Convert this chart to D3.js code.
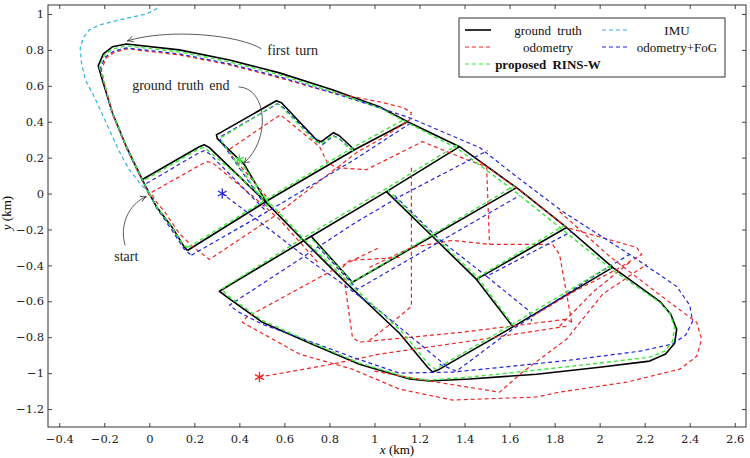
<!DOCTYPE html>
<html>
<head>
<meta charset="utf-8">
<script src="https://cdn.jsdelivr.net/npm/d3@7"></script>
<style>
  body { margin: 0; background: #fff; }
  .tick text { font-family: "DejaVu Serif", serif; font-size: 11.5px; fill: #222; }
  .ann { font-family: "Liberation Serif", serif; font-size: 14px; fill: #222; word-spacing: 2px; }
  .leg { font-family: "Liberation Serif", serif; font-size: 13px; fill: #111; word-spacing: 3px; }
</style>
</head>
<body>
<div id="chart"></div>
<script>
// ---- data (km) ----
const xTicks = [-0.4, -0.2, 0, 0.2, 0.4, 0.6, 0.8, 1, 1.2, 1.4, 1.6, 1.8, 2, 2.2, 2.4, 2.6];
const yTicks = [-1.2, -1, -0.8, -0.6, -0.4, -0.2, 0, 0.2, 0.4, 0.6, 0.8, 1];

// each series is a list of polylines [x, y]
const groundTruth = [
  [[0,0],[-0.031,0.078],[-0.102,0.261],[-0.164,0.45],[-0.209,0.633],[-0.227,0.711],[-0.204,0.778],[-0.164,0.817],[-0.102,0.833],
   [0.133,0.8],[0.356,0.744],[0.578,0.672],[0.813,0.578],[1.022,0.483],[1.147,0.4],[1.378,0.261],[1.631,0.033],[1.853,-0.189],
   [2.058,-0.411],[2.267,-0.6],[2.316,-0.672],[2.342,-0.756],[2.333,-0.833],[2.293,-0.894],[2.222,-0.933],[2.0,-0.967],[1.72,-1.006],
   [1.422,-1.033],[1.244,-1.044],[1.156,-1.033],[0.933,-0.95],[0.724,-0.839],[0.502,-0.717],[0.347,-0.578],[0.311,-0.544],
   [0.68,-0.267],[1.053,0.011],[1.378,0.261]],
  [[0.169,-0.317],[0.533,-0.033],[0.911,0.244],[1.147,0.4]],
  [[0,0],[0.031,-0.072],[0.102,-0.189],[0.151,-0.289],[0.169,-0.317]],
  [[-0.031,0.078],[0.222,0.261],[0.244,0.272],[0.267,0.256],[0.524,-0.056],[0.68,-0.256],[0.876,-0.5],[1.111,-0.778],
   [1.236,-0.967],[1.258,-0.994],[1.289,-0.978],[1.613,-0.744],[2.058,-0.411]],
  [[0.524,-0.056],[0.422,0.161],[0.302,0.306],[0.298,0.328],[0.316,0.339],[0.564,0.517],[0.587,0.506],[0.742,0.3],
   [0.764,0.289],[0.818,0.339],[0.844,0.322],[0.911,0.244]],
  [[0.72,-0.239],[0.902,-0.494],[1.631,0.033]],
  [[1.053,0.011],[1.258,-0.239],[1.453,-0.478],[1.853,-0.189]],
  [[1.453,-0.478],[1.613,-0.739]]
];

const imu = [
  [[0,0],[-0.044,0.061],[-0.089,0.133],[-0.133,0.233],[-0.178,0.356],[-0.222,0.478],[-0.249,0.55],[-0.284,0.633],
   [-0.302,0.733],[-0.307,0.811],[-0.293,0.867],[-0.267,0.911],[-0.222,0.939],[-0.133,0.967],[-0.013,1.0],[0.031,1.028],
   [0.058,1.078],[0.089,1.161]]
];

const odometry = [
  [[0,-0.011],[-0.027,0.061],[-0.098,0.244],[-0.16,0.433],[-0.2,0.617],[-0.213,0.689],[-0.191,0.756],[-0.151,0.789],
   [-0.098,0.806],[0.133,0.772],[0.356,0.717],[0.578,0.644],[0.813,0.561],[1.022,0.511],[1.129,0.478],[1.164,0.45],
   [1.156,0.411],[1.022,0.3],[0.92,0.228],[0.622,-0.061],[0.547,-0.133],[0.267,-0.367],[0.191,-0.294],[0.133,-0.222],
   [0.067,-0.1],[0.022,-0.033],[0.009,0.006],[0.253,0.178],[0.28,0.172],[0.476,-0.033],[0.578,-0.144],[0.756,-0.394]],
  [[1.111,-0.356],[0.889,-0.372],[0.858,-0.411],[0.902,-0.8],[0.933,-0.828],[1.022,-0.817],[1.391,-0.772],[1.853,-0.7],
   [1.876,-0.717]],
  [[1.876,-0.717],[1.822,-0.339],[1.791,-0.283],[1.511,-0.283],[1.347,-0.261],[1.164,-0.3],[0.978,-0.411]],
  [[0.52,-0.017],[0.347,0.239],[0.582,0.439],[0.756,0.261],[0.791,0.172],[0.831,0.144],[0.964,0.133],[1.213,0.289],
   [1.409,0.189],[1.498,0.15],[1.511,-0.283]],
  [[1.164,0.144],[1.164,-0.628],[1.08,-0.717],[0.978,-0.817]],
  [[1.467,0.178],[1.689,-0.022],[1.853,-0.189],[2.164,-0.3],[2.187,-0.339],[2.076,-0.422],[1.88,-0.55],[1.702,-0.683]],
  [[1.822,-0.1],[2.044,-0.35],[2.311,-0.606],[2.431,-0.717],[2.453,-0.811],[2.431,-0.906],[2.356,-0.978],[2.12,-1.05],
   [1.822,-1.106],[1.72,-1.133],[1.347,-1.15],[1.111,-1.089],[0.902,-0.978],[0.667,-0.894],[0.413,-0.717],[0.431,-0.689],
   [0.813,-0.428],[1.022,-0.3]],
  [[1.0,-0.989],[1.244,-1.044],[1.556,-1.106],[1.658,-0.994],[1.764,-0.894],[1.853,-0.811],[2.013,-0.561],[2.209,-0.394]],
  [[1.853,-0.739],[1.391,-0.828],[1.022,-0.894],[0.813,-0.95],[0.489,-1.022]],
  [[2.133,-0.383],[1.969,-0.55],[1.822,-0.739]]
];

const odometryFog = [
  [[0,0],[-0.031,0.072],[-0.102,0.256],[-0.164,0.444],[-0.204,0.622],[-0.218,0.694],[-0.196,0.761],[-0.156,0.794],
   [-0.102,0.811],[0.133,0.778],[0.356,0.722],[0.578,0.65],[0.813,0.561],[1.022,0.478],[1.156,0.422],[1.467,0.256],
   [1.631,0.094],[1.836,-0.1],[2.133,-0.339],[2.342,-0.517],[2.4,-0.622],[2.413,-0.711],[2.382,-0.789],[2.32,-0.839],
   [2.178,-0.878],[1.867,-0.928],[1.569,-0.967],[1.347,-0.994],[1.111,-1.0],[0.902,-0.911],[0.724,-0.828],[0.502,-0.728],
   [0.391,-0.656],[0.356,-0.622],[0.653,-0.378],[0.902,-0.172],[1.111,-0.017],[1.502,0.239]],
  [[0.187,-0.344],[0.533,-0.094],[0.911,0.189],[1.156,0.389]],
  [[0,0],[0.031,-0.078],[0.098,-0.2],[0.156,-0.311],[0.187,-0.344]],
  [[-0.013,0.056],[0.222,0.228],[0.244,0.239],[0.267,0.222],[0.52,-0.1]],
  [[1.32,-0.961],[1.031,-0.661],[0.831,-0.478],[0.724,-0.383],[0.489,-0.156],[0.324,0]],
  [[1.289,-0.95],[1.364,-0.989],[1.613,-0.756],[2.0,-0.439],[2.133,-0.339]],
  [[0.516,-0.067],[0.316,0.294],[0.316,0.317],[0.333,0.328],[0.569,0.5],[0.587,0.489],[0.747,0.289],[0.769,0.272],
   [0.818,0.322],[0.844,0.306],[0.911,0.228]],
  [[0.747,-0.294],[0.924,-0.533],[1.644,-0.011]],
  [[1.089,-0.011],[1.289,-0.256],[1.498,-0.461],[1.876,-0.211]],
  [[1.498,-0.461],[1.689,-0.656],[1.698,-0.711]]
];

const rinsW = [
  [[0,0],[-0.031,0.078],[-0.102,0.261],[-0.164,0.45],[-0.204,0.633],[-0.222,0.706],[-0.2,0.772],[-0.16,0.806],[-0.102,0.822],
   [0.133,0.789],[0.356,0.733],[0.578,0.661],[0.813,0.567],[1.022,0.478],[1.138,0.4],[1.369,0.25],[1.618,0.017],[1.84,-0.206],
   [2.053,-0.422],[2.267,-0.606],[2.311,-0.667],[2.333,-0.744],[2.324,-0.822],[2.289,-0.878],[2.222,-0.911],[2.0,-0.944],
   [1.72,-0.983],[1.422,-1.022],[1.244,-1.039],[1.156,-1.028],[0.933,-0.944],[0.724,-0.833],[0.502,-0.706],[0.347,-0.567],
   [0.32,-0.533],[0.68,-0.25],[1.053,0.028],[1.369,0.272]],
  [[0.173,-0.3],[0.533,-0.022],[0.911,0.261],[1.138,0.417]],
  [[0,0],[0.031,-0.072],[0.102,-0.189],[0.151,-0.289],[0.173,-0.3]],
  [[-0.018,0.078],[0.222,0.25],[0.24,0.256],[0.262,0.239],[0.533,-0.05],[0.689,-0.256],[0.884,-0.494],[1.12,-0.767],
   [1.244,-0.956],[1.271,-0.978],[1.613,-0.728],[2.049,-0.4]],
  [[0.524,-0.072],[0.32,0.294],[0.316,0.311],[0.333,0.322],[0.564,0.5],[0.582,0.489],[0.738,0.289],[0.764,0.278],
   [0.813,0.322],[0.84,0.306],[0.907,0.233]],
  [[0.533,-0.061],[0.4,0.189]],
  [[0.724,-0.256],[0.902,-0.494],[1.622,0.044]],
  [[1.058,0.022],[1.262,-0.233],[1.458,-0.467],[1.844,-0.178]],
  [[1.458,-0.467],[1.609,-0.722]]
];

const endMarks = [
  { key: "odometry", x: 0.489, y: -1.022 },
  { key: "odometryFog", x: 0.324, y: 0.0 },
  { key: "rinsW", x: 0.4, y: 0.189 }
];

// ---- layout ----
const W = 750, H = 458;
const plot = { left: 48, right: 746, top: 5, bottom: 427 };

const x = d3.scaleLinear().domain([-0.45, 2.65]).range([plot.left, plot.right]);
const y = d3.scaleLinear().domain([-1.3, 1.05]).range([plot.bottom, plot.top]);

const styles = {
  groundTruth: { color: "#000", width: 1.6, dash: null },
  imu:         { color: "#2fb4dc", width: 1.2, dash: "4,3" },
  odometry:    { color: "#ee2424", width: 1.2, dash: "4,3" },
  odometryFog: { color: "#2424dc", width: 1.2, dash: "4,3" },
  rinsW:       { color: "#3ae83a", width: 1.4, dash: "4,3" }
};

const svg = d3.select("#chart").append("svg")
  .attr("width", W).attr("height", H);

svg.append("defs").append("clipPath").attr("id", "clip")
  .append("rect")
  .attr("x", plot.left).attr("y", plot.top)
  .attr("width", plot.right - plot.left).attr("height", plot.bottom - plot.top);

const arrow = svg.select("defs").append("marker")
  .attr("id", "arrow").attr("viewBox", "0 0 8 8")
  .attr("refX", 7).attr("refY", 4)
  .attr("markerWidth", 8).attr("markerHeight", 8)
  .attr("markerUnits", "userSpaceOnUse")
  .attr("orient", "auto");
arrow.append("path").attr("d", "M1,1 Q4,3.5 7,4 Q4,4.5 1,7")
  .attr("fill", "none").attr("stroke", "#333").attr("stroke-width", 0.8);

// ---- axes ----
const fmt = d3.format("~g");

svg.append("g")
  .attr("transform", `translate(0,${plot.bottom})`)
  .call(d3.axisBottom(x).tickValues(xTicks).tickSize(-4).tickPadding(8).tickFormat(fmt))
  .call(g => g.select(".domain").remove());

svg.append("g")
  .attr("transform", `translate(0,${plot.top})`)
  .call(d3.axisTop(x).tickValues(xTicks).tickSize(-4).tickFormat(""))
  .call(g => g.select(".domain").remove());

svg.append("g")
  .attr("transform", `translate(${plot.left},0)`)
  .call(d3.axisLeft(y).tickValues(yTicks).tickSize(-4).tickPadding(4).tickFormat(fmt))
  .call(g => g.select(".domain").remove());

svg.append("g")
  .attr("transform", `translate(${plot.right},0)`)
  .call(d3.axisRight(y).tickValues(yTicks).tickSize(-4).tickFormat(""))
  .call(g => g.select(".domain").remove());

svg.selectAll(".tick line").attr("stroke", "#444");

// ---- trajectories ----
const line = d3.line().x(d => x(d[0])).y(d => y(d[1]));
const series = [
  ["groundTruth", groundTruth],
  ["imu", imu],
  ["odometry", odometry],
  ["odometryFog", odometryFog],
  ["rinsW", rinsW]
];

const plotArea = svg.append("g").attr("clip-path", "url(#clip)");

series.forEach(([key, polylines]) => {
  const s = styles[key];
  plotArea.append("g")
    .selectAll("path")
    .data(polylines)
    .join("path")
    .attr("d", line)
    .attr("fill", "none")
    .attr("stroke", s.color)
    .attr("stroke-width", s.width)
    .attr("stroke-linejoin", "round")
    .attr("stroke-dasharray", s.dash);
});

// end asterisks
const star = d3.symbol().type(d3.symbolAsterisk).size(70);
plotArea.selectAll("path.end")
  .data(endMarks)
  .join("path")
  .attr("class", "end")
  .attr("transform", d => `translate(${x(d.x)},${y(d.y)})`)
  .attr("d", star)
  .attr("fill", "none")
  .attr("stroke", d => styles[d.key].color)
  .attr("stroke-width", 1.3);

// ---- frame ----
svg.append("rect")
  .attr("x", plot.left).attr("y", plot.top)
  .attr("width", plot.right - plot.left).attr("height", plot.bottom - plot.top)
  .attr("fill", "none").attr("stroke", "#333").attr("stroke-width", 1);

// ---- annotations ----
function curve(p0, c1, c2, p1) {
  return `M${x(p0[0])},${y(p0[1])} C${x(c1[0])},${y(c1[1])} ${x(c2[0])},${y(c2[1])} ${x(p1[0])},${y(p1[1])}`;
}

const annotations = [
  { text: "first turn", at: [0.524, 0.772], path: [[0.498, 0.806], [0.4, 0.883], [0.089, 0.922], [-0.098, 0.85]] },
  { text: "ground truth end", at: [-0.076, 0.578], path: [[0.396, 0.594], [0.524, 0.589], [0.542, 0.3], [0.418, 0.167]] },
  { text: "start", at: [-0.156, -0.378], path: [[-0.107, -0.289], [-0.133, -0.189], [-0.098, -0.061], [-0.013, -0.017]] }
];

annotations.forEach(a => {
  svg.append("path")
    .attr("d", curve(...a.path))
    .attr("fill", "none").attr("stroke", "#333").attr("stroke-width", 0.8)
    .attr("marker-end", "url(#arrow)");
  svg.append("text").attr("class", "ann")
    .attr("x", x(a.at[0])).attr("y", y(a.at[1]))
    .text(a.text);
});

// ---- axis labels ----
svg.append("text")
  .attr("x", (plot.left + plot.right) / 2).attr("y", 454)
  .attr("text-anchor", "middle")
  .style("font-family", "Liberation Serif, serif").style("font-size", "13px")
  .html('<tspan font-style="italic">x</tspan> (km)');

svg.append("text")
  .attr("transform", "rotate(-90)")
  .attr("x", -213).attr("y", 11)
  .attr("text-anchor", "middle")
  .style("font-family", "Liberation Serif, serif").style("font-size", "13px")
  .html('<tspan font-style="italic">y</tspan> (km)');

// ---- legend ----
const legendItems = [
  { key: "groundTruth", label: "ground truth", col: 0, row: 0 },
  { key: "imu", label: "IMU", col: 1, row: 0 },
  { key: "odometry", label: "odometry", col: 0, row: 1 },
  { key: "odometryFog", label: "odometry+FoG", col: 1, row: 1 },
  { key: "rinsW", label: "proposed RINS-W", col: 0, row: 2, bold: true }
];

const legend = svg.append("g").attr("transform", "translate(459,18)");
legend.append("rect")
  .attr("width", 266).attr("height", 59)
  .attr("fill", "#fff").attr("stroke", "#333").attr("stroke-width", 1);

const colX = [6, 143];
const colTextX = [89, 218];
legendItems.forEach(it => {
  const s = styles[it.key];
  const yy = 12 + it.row * 17;
  legend.append("line")
    .attr("x1", colX[it.col]).attr("x2", colX[it.col] + 26)
    .attr("y1", yy).attr("y2", yy)
    .attr("stroke", s.color).attr("stroke-width", it.key === "groundTruth" ? 1.6 : 1.2)
    .attr("stroke-dasharray", s.dash);
  legend.append("text").attr("class", "leg")
    .attr("x", colTextX[it.col]).attr("y", yy + 4.5)
    .attr("text-anchor", "middle")
    .style("font-weight", it.bold ? "bold" : null)
    .text(it.label);
});
</script>
</body>
</html>
